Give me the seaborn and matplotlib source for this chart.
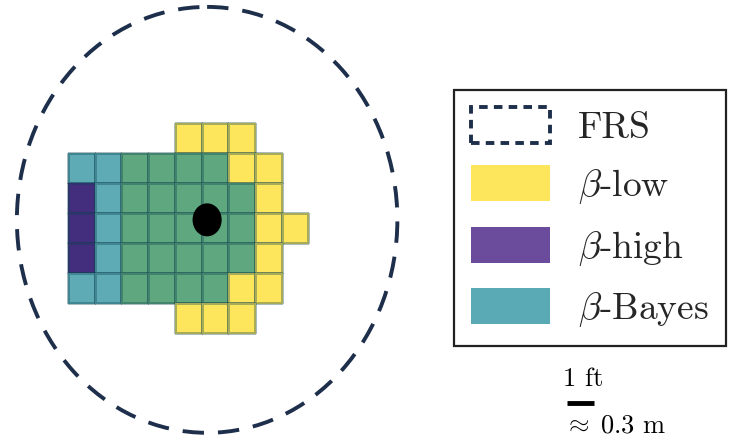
import numpy as np
import pandas as pd
import matplotlib
matplotlib.use("Agg")
import matplotlib.pyplot as plt
from matplotlib.colors import ListedColormap
from matplotlib.patches import Ellipse, Patch
import seaborn as sns

sns.set_theme(style="white")
plt.rcParams["font.family"] = ["cmr10", "DejaVu Serif"]
plt.rcParams["mathtext.fontset"] = "cm"
plt.rcParams["axes.unicode_minus"] = False

# Cell classes: 0 empty, 1 beta-low only, 2 beta-high, 3 beta-Bayes, 4 beta-low and beta-Bayes
row_0 = [0, 0, 0, 0, 1, 1, 1, 0, 0]
row_1 = [3, 3, 4, 4, 4, 4, 1, 1, 0]
row_2 = [2, 3, 4, 4, 4, 4, 4, 1, 0]
row_3 = [2, 3, 4, 4, 4, 4, 4, 1, 1]
row_4 = [2, 3, 4, 4, 4, 4, 4, 1, 0]
row_5 = [3, 3, 4, 4, 4, 4, 1, 1, 0]
row_6 = [0, 0, 0, 0, 1, 1, 1, 0, 0]

cell_colors = ["#fde65c", "#432e7e", "#5eabb6", "#5fa77f"]
legend_labels = ["FRS", r"$\beta$-low", r"$\beta$-high", r"$\beta$-Bayes"]
legend_colors = ["#fde65c", "#6b4b9c", "#5aaab6"]

# FRS boundary and robot position, in cell units
frs_center = (5.21, 3.23)
frs_size = (14.25, 14.2)
robot_size = (1.09, 1.1)
scale_ft = 1.0

grid = pd.DataFrame([row_0, row_1, row_2, row_3, row_4, row_5, row_6], dtype=float)
grid = grid.replace(0, np.nan)

fig = plt.figure(figsize=(7.35, 4.4), dpi=100)
ax = fig.add_axes([0, 0, 1, 1])

sns.heatmap(grid, cmap=ListedColormap(cell_colors), vmin=0.5, vmax=4.5,
            cbar=False, linewidths=0.9, linecolor=(0.05, 0.25, 0.3, 0.35),
            square=False, ax=ax)

# outline only the occupied cells
mesh = ax.collections[0]
filled = ~np.isnan(grid.to_numpy().ravel())
edge_rgba = np.zeros((filled.size, 4))
edge_rgba[filled] = (0.05, 0.25, 0.3, 0.35)
mesh.set_edgecolor(edge_rgba)

ax.add_patch(Ellipse(frs_center, frs_size[0], frs_size[1], fill=False,
                     edgecolor="#1e2f4b", linewidth=2.8,
                     linestyle=(0, (5.5, 3.6))))
ax.add_patch(Ellipse(frs_center, robot_size[0], robot_size[1],
                     facecolor="black", edgecolor="none", zorder=5))

ax.set_xlim(-2.547, 24.98)
ax.set_ylim(10.57, -4.1)
ax.axis("off")

# scale bar: one cell is one foot
x0, yb = 18.69, 9.33
ax.plot([x0, x0 + scale_ft], [yb, yb], color="black", linewidth=3.5,
        solid_capstyle="butt")
ax.text(x0 + scale_ft / 2 + 0.1, yb - 0.4, "1 ft", ha="center", va="bottom",
        fontsize=19, color="black")
ax.text(x0 - 0.1, yb + 0.75, r"$\approx\;$0.3 m", ha="left", va="center",
        fontsize=19, color="black")

handles = [Patch(facecolor="none", edgecolor="#1e2f4b", linewidth=2.8,
                 linestyle=(0, (2.2, 1.6)))]
handles += [Patch(facecolor=c, edgecolor="none") for c in legend_colors]

leg = fig.legend(handles, legend_labels, loc="upper left",
                 bbox_to_anchor=(0.618, 0.795), borderaxespad=0,
                 fontsize=27, handlelength=2.1, handleheight=1.1,
                 handletextpad=0.75, labelspacing=0.55, borderpad=0.45,
                 frameon=True, fancybox=False, framealpha=1)
leg.get_frame().set_edgecolor("#222222")
leg.get_frame().set_linewidth(1.6)

fig.savefig("out.png", dpi=100)
